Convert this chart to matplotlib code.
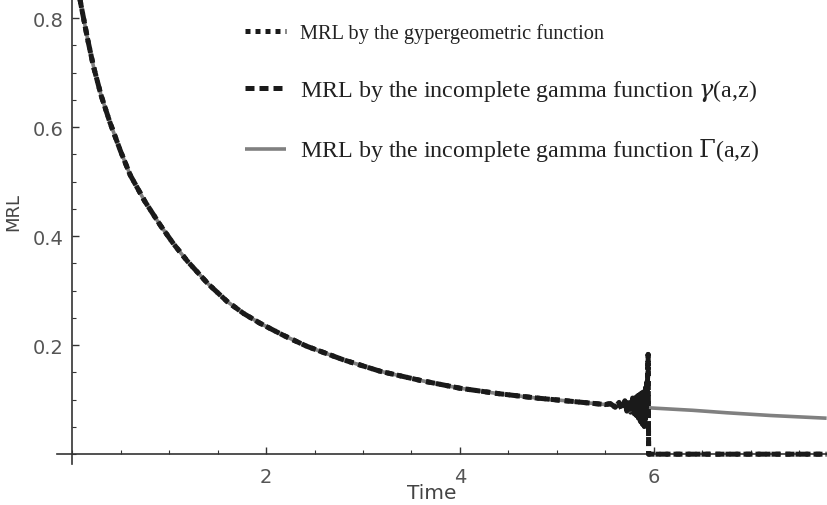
import matplotlib
matplotlib.use("Agg")
import matplotlib.pyplot as plot
from matplotlib.ticker import MultipleLocator

# values
time_points = [0.0, 0.05, 0.10, 0.16, 0.22, 0.30, 0.39, 0.50, 0.60, 0.75, 0.91, 1.05,
               1.19, 1.40, 1.60, 1.77, 1.94, 2.18, 2.42, 2.80, 3.18, 3.60, 4.0, 4.40,
               4.79, 5.03, 5.5, 5.82, 6.0, 6.4, 6.75, 7.2, 7.78]
mrl_gamma_upper = [0.92, 0.865, 0.817, 0.762, 0.712, 0.658, 0.609, 0.556, 0.512, 0.464,
                   0.420, 0.385, 0.354, 0.313, 0.280, 0.258, 0.240, 0.218, 0.198, 0.173,
                   0.152, 0.135, 0.121, 0.111, 0.103, 0.099, 0.091, 0.0865, 0.0845,
                   0.0805, 0.076, 0.071, 0.066]

# numerical breakdown of the hypergeometric / lower gamma versions near t = 6
break_time = [5.55, 5.60, 5.64, 5.67, 5.70, 5.72, 5.74, 5.76, 5.78, 5.80, 5.81, 5.82,
              5.83, 5.84, 5.85, 5.86, 5.87, 5.88, 5.89, 5.90, 5.905, 5.91, 5.915,
              5.92, 5.925, 5.93, 5.935, 5.94, 5.945]
break_mrl = [0.093, 0.086, 0.095, 0.082, 0.098, 0.079, 0.100, 0.077, 0.103, 0.074, 0.104,
             0.071, 0.107, 0.066, 0.109, 0.060, 0.112, 0.055, 0.114, 0.051, 0.110,
             0.064, 0.122, 0.078, 0.132, 0.095, 0.150, 0.183, 0.0]
tail_time = [5.945, 7.78]
tail_mrl = [0.0, 0.0]

labels = [
    "MRL by the gypergeometric function",
    r"MRL by the incomplete gamma function $\gamma$(a,z)",
    r"MRL by the incomplete gamma function $\Gamma$(a,z)",
]


def broken_series():
    keep = [i for i, t in enumerate(time_points) if t <= 5.5]
    x = [time_points[i] for i in keep] + break_time + tail_time
    y = [mrl_gamma_upper[i] for i in keep] + break_mrl + tail_mrl
    return x, y


def plot_mrl(output):
    plot.rcParams["mathtext.fontset"] = "dejavuserif"
    figure = plot.figure(figsize=(8.27, 5.06), dpi=100)
    axes = figure.add_axes([57 / 827, 41 / 506, 770 / 827, 465 / 506])

    x_broken, y_broken = broken_series()

    line_gamma_upper, = axes.plot(time_points, mrl_gamma_upper, "-", color="#808080",
                                  linewidth=2.6, solid_capstyle="butt", zorder=2)
    line_gamma_lower, = axes.plot(x_broken, y_broken, color="#1a1a1a", linewidth=3.6,
                                  linestyle=(0, (1.8, 1.0)), dash_capstyle="butt", zorder=3)
    line_hyper, = axes.plot(x_broken, y_broken, color="#1a1a1a", linewidth=3.6,
                            linestyle=(0, (1.0, 1.0)), dash_capstyle="butt", zorder=4)

    axes.set_xlim(-0.155, 7.784)
    axes.set_ylim(-0.018, 0.835)

    for side in ("top", "right"):
        axes.spines[side].set_visible(False)
    axes.spines["left"].set_position(("data", 0))
    axes.spines["bottom"].set_position(("data", 0))
    for side in ("left", "bottom"):
        axes.spines[side].set_color("#333333")
        axes.spines[side].set_linewidth(1.2)

    axes.xaxis.set_minor_locator(MultipleLocator(0.5))
    axes.yaxis.set_minor_locator(MultipleLocator(0.05))
    axes.set_xticks([2, 4, 6])
    axes.set_yticks([0.2, 0.4, 0.6, 0.8])
    axes.set_yticklabels(["0.2", "0.4", "0.6", "0.8"])

    axes.tick_params(which="both", direction="in", color="#333333", labelcolor="#555555",
                     labelsize=14)
    axes.tick_params(which="major", length=5, width=1)
    axes.tick_params(which="minor", length=3, width=0.8)
    axes.tick_params(axis="x", pad=9)
    axes.tick_params(axis="y", pad=6)

    axes.set_xlabel("Time", fontsize=14.5, color="#444444")
    axes.xaxis.set_label_coords((432 - 57) / 770, (465 - 484) / 465)
    axes.set_ylabel("MRL", fontsize=13, color="#444444")
    axes.yaxis.set_label_coords((22 - 57) / 770, (465 - 212) / 465)

    legend = axes.legend(
        [line_hyper, line_gamma_lower, line_gamma_upper],
        labels,
        loc="upper left",
        bbox_to_anchor=(245 / 827, 1 - 24 / 506),
        bbox_transform=figure.transFigure,
        frameon=False,
        prop={"family": "Liberation Serif", "size": 14.7},
        handlelength=2.0,
        handletextpad=0.7,
        labelspacing=1.65,
        borderpad=0,
        borderaxespad=0,
        labelcolor="#222222",
    )
    # the two gamma rows are set in a slightly larger type in the original
    for text in legend.get_texts()[1:]:
        text.set_fontsize(17.3)

    figure.savefig(output, dpi=100)


plot_mrl("out.png")
